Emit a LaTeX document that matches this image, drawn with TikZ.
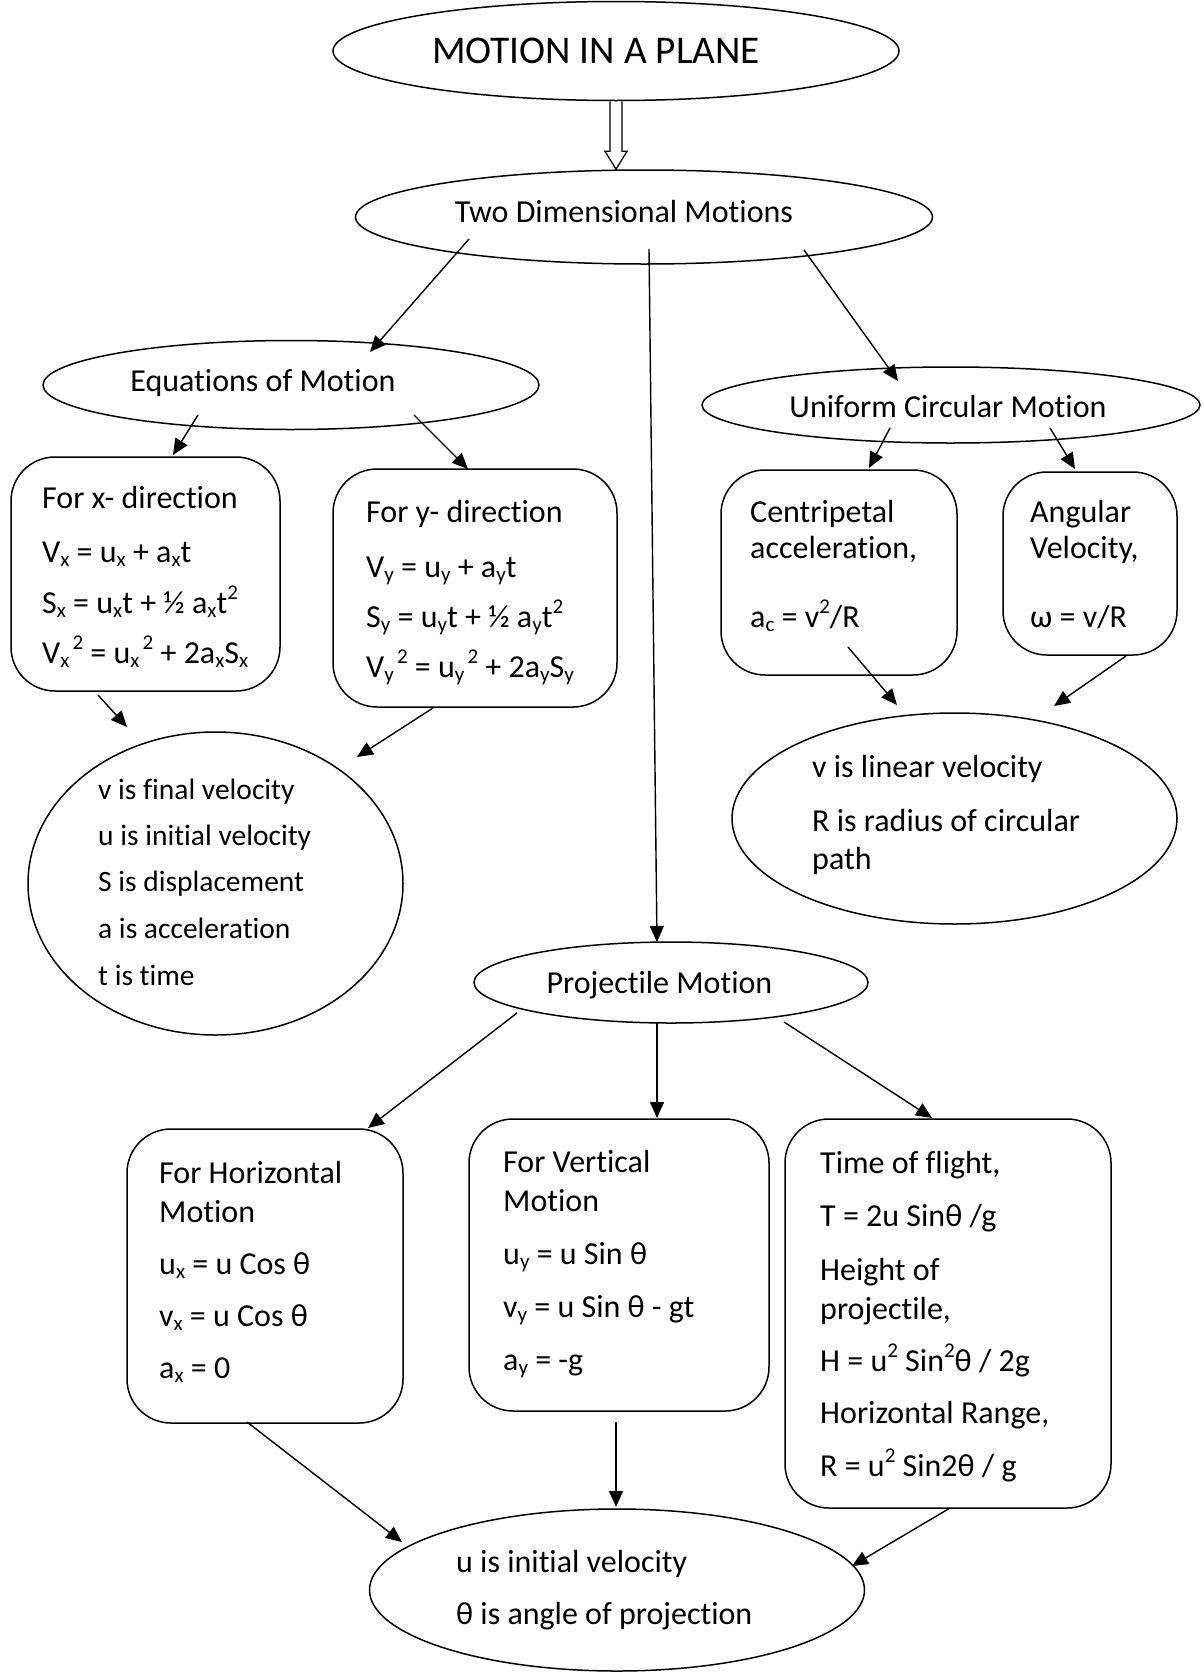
\documentclass[tikz,border=0pt]{standalone}
\usepackage{fontspec}
\setmainfont{Carlito}[Ligatures=TeX, RawFeature=-liga, RawFeature=-clig, RawFeature=-calt]
\usetikzlibrary{shapes.geometric,arrows.meta,calc}
\newcommand\mysub[1]{\raisebox{-0.14em}{\fontsize{21}{21}\selectfont #1}}
\newcommand\mysup[1]{\raisebox{0.42em}{\fontsize{21}{21}\selectfont #1}}
\begin{document}
\begin{tikzpicture}[x=1pt,y=-1pt,
  ell/.style={draw, ellipse, line width=1.5pt, inner sep=0pt},
  rbox/.style={draw, rectangle, rounded corners=44pt, line width=1.5pt, inner sep=0pt},
  txt/.style={anchor=base west, inner sep=0pt, font=\fontsize{32}{38}\selectfont},
  stxt/.style={anchor=base west, inner sep=0pt, font=\fontsize{29.5}{35}\selectfont},
  ctxt/.style={anchor=base, inner sep=0pt, font=\fontsize{32}{38}\selectfont},
  arr/.style={line width=1.4pt, -{Triangle[length=16pt,width=14pt]}},
  blk/.style={line width=1.3pt, line join=miter}]
\useasboundingbox (0,0) rectangle (1204,1673);

% ---------- shapes ----------
\node[ell, minimum width=566pt, minimum height=99pt] (title) at (616,51) {};
\node[ell, minimum width=577pt, minimum height=94pt] (twod) at (644,217) {};
\node[ell, minimum width=496pt, minimum height=89pt] (eqm) at (291,385) {};
\node[ell, minimum width=498pt, minimum height=76pt] (ucm) at (951,405) {};
\node[rbox, minimum width=269pt, minimum height=234pt] (xbox) at (145.5,574) {};
\node[rbox, minimum width=284pt, minimum height=238pt] (ybox) at (475,588) {};
\node[rbox, minimum width=236pt, minimum height=205pt] (cbox) at (839,572.5) {};
\node[rbox, minimum width=174pt, minimum height=183pt] (abox) at (1090,563.5) {};
\node[ell, minimum width=445pt, minimum height=211pt] (lin) at (954.5,818.5) {};
\node[ell, minimum width=375pt, minimum height=303pt] (circ) at (215.5,883.5) {};
\node[ell, minimum width=394pt, minimum height=81pt] (proj) at (671,982.5) {};
\node[rbox, minimum width=276pt, minimum height=294pt] (hbox) at (265,1276) {};
\node[rbox, minimum width=300pt, minimum height=292pt] (vbox) at (619,1265) {};
\node[rbox, minimum width=326pt, minimum height=389pt] (tbox) at (948,1313.5) {};
\node[ell, minimum width=495pt, minimum height=162pt] (bot) at (617,1590) {};

% ---------- texts ----------
\node[ctxt, font=\fontsize{39.3}{46}\selectfont] (titletxt) at (596,63) {MOTION IN A PLANE};
\node[ctxt] (twodtxt) at (624,222) {Two Dimensional Motions};
\node[ctxt] (eqmtxt) at (263,391) {Equations of Motion};
\node[ctxt] (ucmtxt) at (948,417) {Uniform Circular Motion};
\node[ctxt] (projtxt) at (659.5,993) {Projectile Motion};

\node[txt] (x1) at (42,508) {For x- direction};
\node[txt] (x2) at (42,562) {V\mysub{x} = u\mysub{x} + a\mysub{x}t};
\node[txt] (x3) at (42,613) {S\mysub{x} = u\mysub{x}t + ½ a\mysub{x}t\mysup{2}};
\node[txt] (x4) at (42,663) {V\mysub{x}\mysup{\hspace{0.15em}2} = u\mysub{x}\mysup{\hspace{0.15em}2} + 2a\mysub{x}S\mysub{x}};

\node[txt] (y1) at (366,522) {For y- direction};
\node[txt] (y2) at (366,577) {V\mysub{y} = u\mysub{y} + a\mysub{y}t};
\node[txt] (y3) at (366,627) {S\mysub{y} = u\mysub{y}t + ½ a\mysub{y}t\mysup{2}};
\node[txt] (y4) at (366,677) {V\mysub{y}\mysup{\hspace{0.15em}2} = u\mysub{y}\mysup{\hspace{0.15em}2} + 2a\mysub{y}S\mysub{y}};

\node[txt] (c1) at (750,522) {Centripetal};
\node[txt] (c2) at (750,558) {acceleration,};
\node[txt] (c3) at (750,627) {a\mysub{c} = v\mysup{2}/R};

\node[txt] (w1) at (1030,522) {Angular};
\node[txt] (w2) at (1030,558) {Velocity,};
\node[txt] (w3) at (1030,627) {ω = v/R};

\node[txt] (l1) at (812,777) {v is linear velocity};
\node[txt] (l2) at (812,831) {R is radius of circular};
\node[txt] (l3) at (812,869) {path};

\node[stxt] (k1) at (98,799) {v is final velocity};
\node[stxt] (k2) at (98,845) {u is initial velocity};
\node[stxt] (k3) at (98,891) {S is displacement};
\node[stxt] (k4) at (98,938) {a is acceleration};
\node[stxt] (k5) at (98,985) {t is time};

\node[txt] (h1) at (159,1183) {For Horizontal};
\node[txt] (h2) at (159,1222) {Motion};
\node[txt] (h3) at (159,1274) {u\mysub{x} = u Cos θ};
\node[txt] (h4) at (159,1326) {v\mysub{x} = u Cos θ};
\node[txt] (h5) at (159,1378) {a\mysub{x} = 0};

\node[txt] (v1) at (503,1172) {For Vertical};
\node[txt] (v2) at (503,1211) {Motion};
\node[txt] (v3) at (503,1264) {u\mysub{y} = u Sin θ};
\node[txt] (v4) at (503,1317) {v\mysub{y} = u Sin θ - gt};
\node[txt] (v5) at (503,1370) {a\mysub{y} = -g};

\node[txt] (t1) at (820,1173) {Time of flight,};
\node[txt] (t2) at (820,1226) {T = 2u Sinθ /g};
\node[txt] (t3) at (820,1280) {Height of};
\node[txt] (t4) at (820,1319) {projectile,};
\node[txt] (t5) at (820,1371) {H = u\mysup{2} Sin\mysup{2}θ / 2g};
\node[txt] (t6) at (820,1423) {Horizontal Range,};
\node[txt] (t7) at (820,1476) {R = u\mysup{2} Sin2θ / g};

\node[txt] (b1) at (456,1572) {u is initial velocity};
\node[txt] (b2) at (456,1624) {θ is angle of projection};

% ---------- block arrow ----------
\coordinate (bt) at (title.south |- twod.north);
\draw[blk] ($(title.south)+(-6,0)$) -- ($(bt)+(-6,-18)$) -- ($(bt)+(-11,-18)$) -- (bt)
  -- ($(bt)+(11,-18)$) -- ($(bt)+(6,-18)$) -- ($(title.south)+(6,0)$);

% ---------- connector end points ----------
\coordinate (s1) at (469,239);  \coordinate (e1) at (370,352);
\coordinate (s2) at (649,249);  \coordinate (e2) at (657,942);
\coordinate (s3) at (804,250);  \coordinate (e3) at (898,381);
\coordinate (s4) at (198,415);  \coordinate (e4) at (173,455);
\coordinate (s5) at (414,415);  \coordinate (e5) at (468,469);
\coordinate (s6) at (890,428);  \coordinate (e6) at (869,468);
\coordinate (s7) at (1050,428); \coordinate (e7) at (1075,469);
\coordinate (s8) at (848,647);  \coordinate (e8) at (897,705);
\coordinate (s9) at (1126,656); \coordinate (e9) at (1054,706);
\coordinate (s10) at (98,695);  \coordinate (e10) at (127,727);
\coordinate (s11) at (433,708); \coordinate (e11) at (357,757);
\coordinate (s12) at (517,1013); \coordinate (e12) at (368,1128);
\coordinate (s13) at (657,1022); \coordinate (e13) at (657,1118);
\coordinate (s14) at (784,1022); \coordinate (e14) at (932,1118);
\coordinate (s15) at (247,1422); \coordinate (e15) at (402,1542);
\coordinate (s16) at (616,1422); \coordinate (e16) at (616,1507);
\coordinate (s17) at (950,1508); \coordinate (e17) at (852,1566);

\foreach \i in {1,...,17} { \draw[arr] (s\i) -- (e\i); }
\end{tikzpicture}
\end{document}
